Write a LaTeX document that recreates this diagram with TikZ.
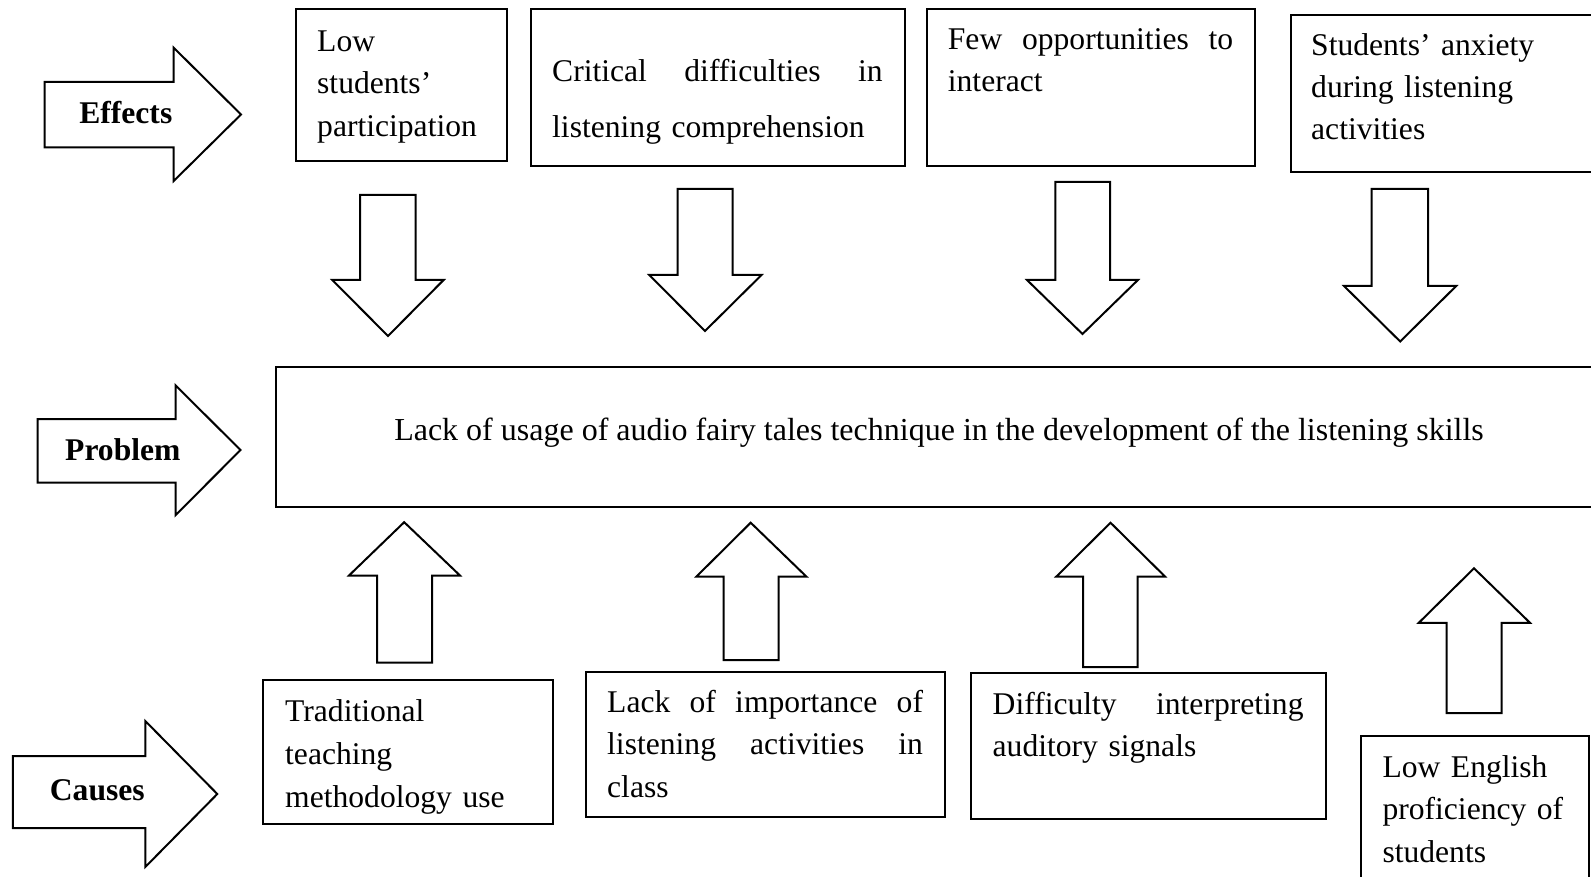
\documentclass[tikz,border=0pt]{standalone}
\usepackage{fontspec}
\setmainfont{Liberation Serif}
% vertical block arrow: shaftL, shaftR, tail y, head-base y, headL, headR, tip x, tip y
\newcommand\vblock[8]{\draw[blockarrow] (#1,#3) -- (#2,#3) -- (#2,#4) -- (#6,#4) -- (#7,#8) -- (#5,#4) -- (#1,#4) -- cycle;}
% right block arrow: bodyL, bodyTop, bodyBot, headX, headTop, headBot, tip x, tip y
\newcommand\rblock[8]{\draw[blockarrow] (#1,#2) -- (#4,#2) -- (#4,#5) -- (#7,#8) -- (#4,#6) -- (#4,#3) -- (#1,#3) -- cycle;}
\begin{document}
\begin{tikzpicture}[x=1pt,y=-1pt,
  box/.style={draw, line width=2pt, inner sep=0pt},
  blockarrow/.style={draw, line width=2pt, line join=miter, fill=white},
  txt/.style={inner sep=0pt, anchor=base west, align=left, font=\fontsize{31.6}{42.5}\selectfont},
  lbl/.style={inner sep=0pt, anchor=base west, font=\fontsize{31.6}{38}\selectfont\bfseries}]
\useasboundingbox (0,0) rectangle (1591,877);
\fill[white] (0,0) rectangle (1591,877);
\clip (0,0) rectangle (1591,877);

% left labels
\rblock{44.5}{82}{147.5}{173.7}{47.7}{181}{241}{114.5}
\node[lbl] (leff) at (79.1,123.5) {Effects};
\rblock{37.7}{419}{482.5}{175.5}{385.3}{515.3}{240.5}{450}
\node[lbl] (lprob) at (65,460.5) {Problem};
\rblock{12.8}{756}{828}{145.3}{721}{867}{217.3}{794}
\node[lbl] (lcaus) at (49.7,800) {Causes};

% effects boxes
\node[box, minimum width=211pt, minimum height=152pt] (e1) at (401.5,85.5) {};
\node[txt, text width=185pt] (e1t) at (317,51.5) {Low\\students’\\participation};
\node[box, minimum width=374pt, minimum height=156.4pt] (e2) at (717.5,87.5) {};
\node[txt, text width=330.5pt, font=\fontsize{31.6}{56}\selectfont] (e2t) at (552,82) {Critical\hfill difficulties\hfill in\\listening comprehension};
\node[box, minimum width=327.5pt, minimum height=156.6pt] (e3) at (1090.75,87.5) {};
\node[txt, text width=285.3pt] (e3t) at (947.7,49.5) {Few\hfill opportunities\hfill to\\interact};
\node[box, minimum width=309.5pt, minimum height=156.6pt] (e4) at (1445.25,93.3) {};
\node[txt, text width=260pt, font=\fontsize{31.6}{41.7}\selectfont] (e4t) at (1311,56) {Students’ anxiety\\during listening\\activities};

% down arrows
\vblock{360}{415.7}{195}{280}{332.3}{443.6}{388}{336}
\vblock{677.5}{732.5}{189}{275}{649.3}{761.5}{705}{331}
\vblock{1055.3}{1110}{182}{280}{1027}{1137.9}{1082.5}{334}
\vblock{1371.7}{1428}{189}{286}{1344}{1456.2}{1400.2}{341.5}

% problem
\node[box, minimum width=1326.2pt, minimum height=140pt] (prob) at (938.9,437) {};
\node[inner sep=0pt, anchor=base, font=\fontsize{32}{38}\selectfont] (probt) at (939,440) {Lack of usage of audio fairy tales technique in the development of the listening skills};

% up arrows
\vblock{377}{432}{662.7}{575.5}{349}{460}{404.2}{522.2}
\vblock{723.7}{778.6}{660}{576.5}{696.5}{806.3}{750.7}{522.7}
\vblock{1083}{1137.5}{667}{576.5}{1056.4}{1165}{1110.5}{522.7}
\vblock{1446.5}{1501.7}{713}{622.8}{1418.8}{1530}{1474}{568.3}

% causes boxes
\node[box, minimum width=290pt, minimum height=144pt] (c1) at (408,751.5) {};
\node[txt, text width=260pt, font=\fontsize{31.6}{43}\selectfont] (c1t) at (285,721) {Traditional\\teaching\\methodology use};
\node[box, minimum width=358.4pt, minimum height=145pt] (c2) at (765.5,744.5) {};
\node[txt, text width=315.8pt] (c2t) at (607,712) {Lack\hfill of\hfill importance\hfill of\\listening\hfill activities\hfill in\\class};
\node[box, minimum width=354.3pt, minimum height=145.5pt] (c3) at (1148.35,745.75) {};
\node[txt, text width=310.8pt, font=\fontsize{31.6}{42}\selectfont] (c3t) at (992.5,714.3) {Difficulty\hfill interpreting\\auditory signals};
\node[box, minimum width=228.5pt, minimum height=164pt] (c4) at (1474.95,818) {};
\node[txt, text width=200pt] (c4t) at (1382.3,777) {Low English\\proficiency of\\students};
\end{tikzpicture}
\end{document}
